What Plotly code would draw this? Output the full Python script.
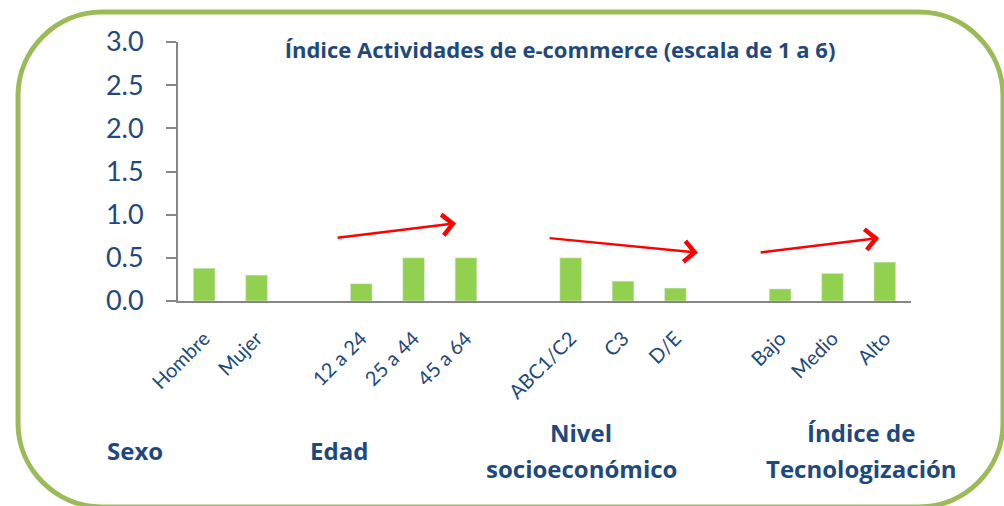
import plotly.graph_objects as go

# categories (empty slots separate the groups)
categories = ["Hombre", "Mujer", "", "12 a 24", "25 a 44", "45 a 64", "",
              "ABC1/C2", "C3", "D/E", "", "Bajo", "Medio", "Alto"]
values = [0.38, 0.30, None, 0.20, 0.50, 0.50, None,
          0.50, 0.23, 0.15, None, 0.14, 0.32, 0.45]

group_names = [["Sexo"], ["Edad"], ["Nivel", "socioeconómico"],
               ["Índice de", "Tecnologización"]]
group_px = [135, 339, 581, 861]  # label centres, pixels

# trend arrows: (x_tail, y_tail, x_tip, y_tip) in data units
trend_arrows = [
    (2.52, 0.73, 4.81, 0.90),
    (6.57, 0.73, 9.43, 0.56),
    (10.60, 0.56, 12.89, 0.73),
]

title_text = "Índice Actividades de e-commerce (escala de 1 a 6)"

navy = "#1F497D"
bar_green = "#92D050"
axis_gray = "#868686"
frame_green = "#9BBB59"

W, H = 1004, 506
L, R, T, B = 178, 93, 42, 205
pw, ph = W - L - R, H - T - B

idx = list(range(len(categories)))

fig = go.Figure(go.Bar(x=idx, y=values, marker_color=bar_green, width=0.415,
                       showlegend=False, hoverinfo="skip"))


def to_paper(px, py):
    return (px - L) / pw, (H - B - py) / ph


def P(px, py):
    xp, yp = to_paper(px, py)
    return f"{xp:.5f},{yp:.5f}"


# rounded frame around the chart
x0, y0, x1, y1, rad = 18, 12, 1003, 507, 84
k = 0.45
path = (
    f"M{P(x0 + rad, y0)} L{P(x1 - rad, y0)} "
    f"C{P(x1 - rad * k, y0)} {P(x1, y0 + rad * k)} {P(x1, y0 + rad)} "
    f"L{P(x1, y1 - rad)} "
    f"C{P(x1, y1 - rad * k)} {P(x1 - rad * k, y1)} {P(x1 - rad, y1)} "
    f"L{P(x0 + rad, y1)} "
    f"C{P(x0 + rad * k, y1)} {P(x0, y1 - rad * k)} {P(x0, y1 - rad)} "
    f"L{P(x0, y0 + rad)} "
    f"C{P(x0, y0 + rad * k)} {P(x0 + rad * k, y0)} {P(x0 + rad, y0)} Z"
)
fig.add_shape(type="path", path=path, xref="paper", yref="paper",
              line=dict(color=frame_green, width=5), layer="below")

for xt, yt, xh, yh in trend_arrows:
    fig.add_annotation(x=xh, y=yh, ax=xt, ay=yt, xref="x", yref="y",
                       axref="x", ayref="y", text="", showarrow=True,
                       arrowhead=4, arrowsize=1.6, arrowwidth=2.5,
                       arrowcolor="#FF0000", standoff=0)

for lines, gpx in zip(group_names, group_px):
    ys = [450] if len(lines) == 1 else [433, 468]
    for line, py in zip(lines, ys):
        gx, gy = to_paper(gpx, py)
        fig.add_annotation(x=gx, y=gy, xref="paper", yref="paper",
                           text=f"<b>{line}</b>", showarrow=False,
                           xanchor="center", yanchor="middle",
                           font=dict(size=24, color=navy, family="Open Sans"))

fig.update_layout(
    width=W, height=H, autosize=False,
    margin=dict(l=L, r=R, t=T, b=B),
    paper_bgcolor="white", plot_bgcolor="white",
    font=dict(family="Lato", color=navy),
    title=dict(text=f"<b>{title_text}</b>", x=to_paper(560, 0)[0],
               xref="paper", xanchor="center", y=1 - 50 / H, yref="container",
               yanchor="middle", font=dict(size=22, color=navy, family="Open Sans")),
    xaxis=dict(range=[-0.5, len(categories) - 0.5], tickvals=idx,
               ticktext=categories, tickangle=-45, ticks="",
               tickfont=dict(size=20, color=navy), ticklabelstandoff=16,
               showgrid=False, zeroline=False, showline=True,
               linecolor=axis_gray, linewidth=2, automargin=False),
    yaxis=dict(range=[0, 3.0], dtick=0.5, tickformat=".1f",
               ticks="outside", ticklen=10, tickwidth=2, tickcolor=axis_gray,
               tickfont=dict(size=27, color=navy), ticklabelstandoff=17,
               showgrid=False, zeroline=False, showline=True,
               linecolor=axis_gray, linewidth=2, automargin=False),
)

fig.write_html("out.html", config={"displayModeBar": False},
               post_script="document.body.style.margin='0px';"
               "document.body.style.overflow='hidden';")
